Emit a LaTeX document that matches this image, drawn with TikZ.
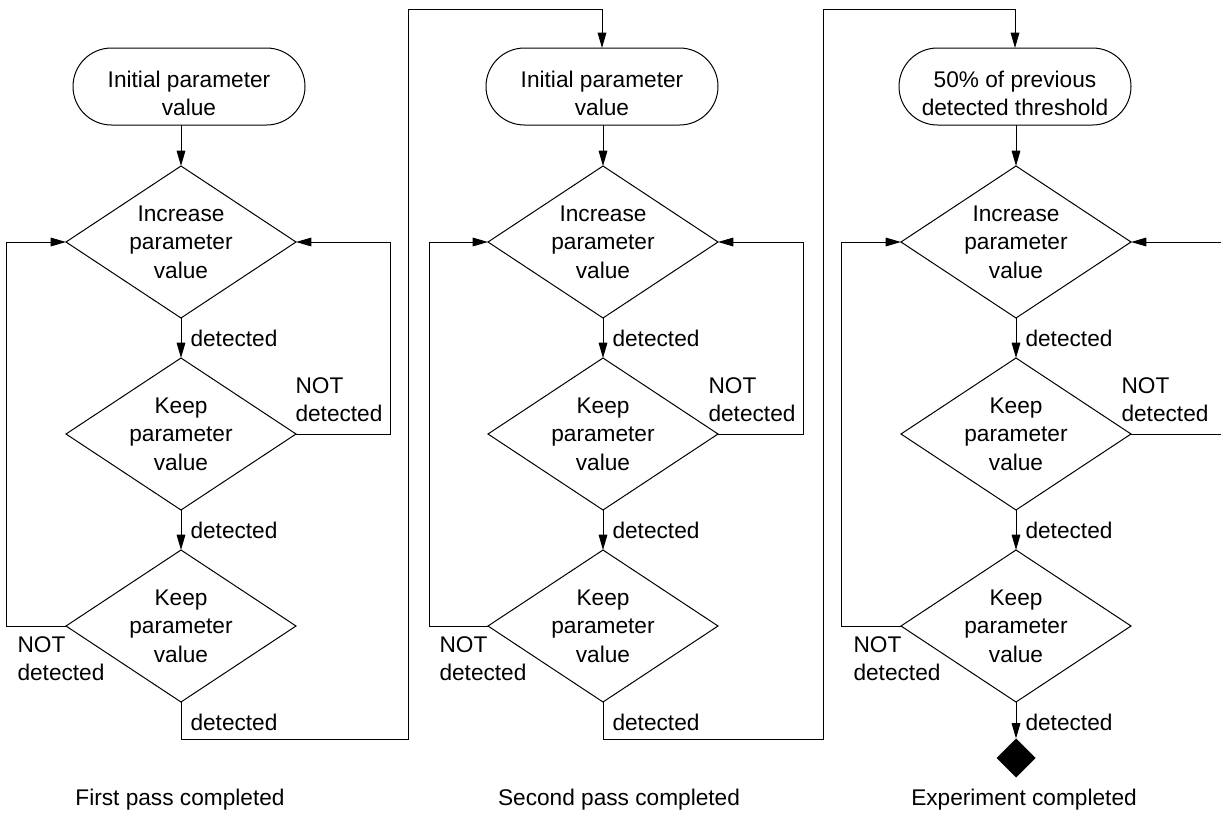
\documentclass[tikz,border=0pt]{standalone}
\usepackage{fontspec}
\setmainfont{Liberation Sans}
\usetikzlibrary{shapes.geometric,shapes.misc,arrows.meta}

\tikzset{every picture/.style={line width=0.75pt}}
\tikzset{
  lbl/.style={inner sep=0pt, font=\fontsize{17}{21}\selectfont, align=left},
  terminal/.style={draw, rounded rectangle, minimum width=174pt, minimum height=57.75pt,
    inner sep=0pt, outer sep=0pt, align=center, font=\fontsize{17}{21}\selectfont},
  decision/.style={draw, diamond, aspect=1.51, minimum width=172.5pt, minimum height=114pt,
    inner sep=0pt, outer sep=0pt, align=center, font=\fontsize{17}{21.4}\selectfont},
  finish/.style={diamond, fill=black, minimum width=29.25pt, minimum height=29.25pt,
    inner sep=0pt, outer sep=0pt},
  flow/.style={-{Triangle[length=11.5pt,width=6.5pt]}},
}
% pushes the first line of a terminal down a little
\newcommand{\lowerline}{\rule{0pt}{22.7pt}}

\begin{document}
\begin{tikzpicture}[x=0.75pt,y=0.75pt,yscale=-1,xscale=1]
\clip (0,0) rectangle (1221,814);

%First pass
\node[terminal] (t1) at (189,86.5) {\lowerline Initial parameter\\value};
\node[decision] (d11) at (181,242) {Increase\\parameter\\value};
\node[decision] (d12) at (181,434) {Keep\\parameter\\value};
\node[decision] (d13) at (181,626) {Keep\\parameter\\value};

%Second pass
\node[terminal] (t2) at (602,86.5) {\lowerline Initial parameter\\value};
\node[decision] (d21) at (603,242) {Increase\\parameter\\value};
\node[decision] (d22) at (603,434) {Keep\\parameter\\value};
\node[decision] (d23) at (603,626) {Keep\\parameter\\value};

%Third pass
\node[terminal] (t3) at (1015,86.5) {\lowerline 50\% of previous\\detected threshold};
\node[decision] (d31) at (1016,242) {Increase\\parameter\\value};
\node[decision] (d32) at (1016,434) {Keep\\parameter\\value};
\node[decision] (d33) at (1016,626) {Keep\\parameter\\value};
\node[finish] (done) at (1016,758) {};

%Bends between the passes
\coordinate (b1) at (408,739);
\coordinate (b1top) at (408,9);
\coordinate (b2) at (823,739);
\coordinate (b2top) at (823,9);

%Connectors, first pass
\draw[flow] (d11.north |- t1.south) -- (d11.north);
\draw[flow] (d11.south) -- (d12.north);
\draw[flow] (d12.south) -- (d13.north);
\draw[flow] (d12.east) -- ++(94,0) |- (d11.east);
\draw[flow] (d13.west) -- ++(-60,0) |- (d11.west);
\draw[flow] (d13.south) |- (b1) -- (b1top) -| (t2.north);

%Connectors, second pass
\draw[flow] (d21.north |- t2.south) -- (d21.north);
\draw[flow] (d21.south) -- (d22.north);
\draw[flow] (d22.south) -- (d23.north);
\draw[flow] (d22.east) -- ++(85,0) |- (d21.east);
\draw[flow] (d23.west) -- ++(-59,0) |- (d21.west);
\draw[flow] (d23.south) |- (b2) -- (b2top) -| (t3.north);

%Connectors, third pass
\draw[flow] (d31.north |- t3.south) -- (d31.north);
\draw[flow] (d31.south) -- (d32.north);
\draw[flow] (d32.south) -- (d33.north);
\draw[flow] (d32.east) -- ++(92,0) |- (d31.east);
\draw[flow] (d33.west) -- ++(-60,0) |- (d31.west);
\draw[flow] (d33.south) -- (done.north);

% Text Node
\node[lbl, anchor=west] (l11) at (190,338) {detected};
\node[lbl, anchor=west] (l12) at (190,530) {detected};
\node[lbl, anchor=west] (l13) at (190,722) {detected};
\node[lbl, anchor=west] (n12) at (295,400) {NOT\\detected};
\node[lbl, anchor=west] (n13) at (17,659) {NOT\\detected};
% Text Node
\node[lbl, anchor=west] (l21) at (612,338) {detected};
\node[lbl, anchor=west] (l22) at (612,530) {detected};
\node[lbl, anchor=west] (l23) at (612,722) {detected};
\node[lbl, anchor=west] (n22) at (708,400) {NOT\\detected};
\node[lbl, anchor=west] (n23) at (439,659) {NOT\\detected};
% Text Node
\node[lbl, anchor=west] (l31) at (1025,338) {detected};
\node[lbl, anchor=west] (l32) at (1025,530) {detected};
\node[lbl, anchor=west] (l33) at (1025,722) {detected};
\node[lbl, anchor=west] (n32) at (1121,400) {NOT\\detected};
\node[lbl, anchor=west] (n33) at (853,659) {NOT\\detected};

% Captions
\node[lbl] (cap1) at (180,800) {First pass completed};
\node[lbl] (cap2) at (619,800) {Second pass completed};
\node[lbl] (cap3) at (1024,800) {Experiment completed};

\end{tikzpicture}
\end{document}
